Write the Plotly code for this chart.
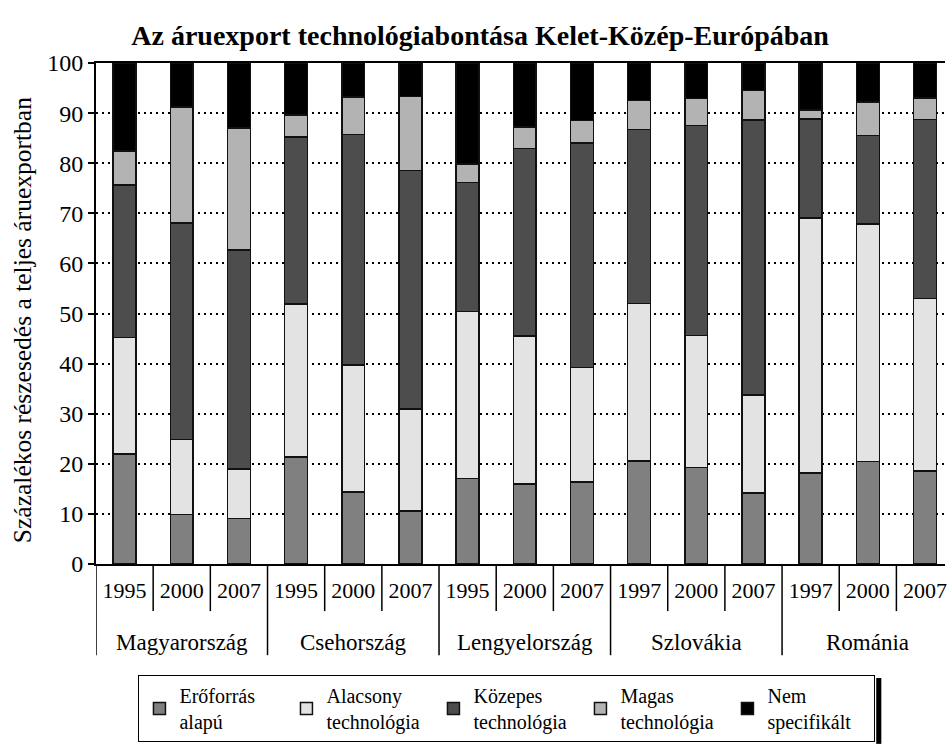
import plotly.graph_objects as go

countries = ["Magyarország", "Csehország", "Lengyelország", "Szlovákia", "Románia"]
years = ["1995", "2000", "2007", "1995", "2000", "2007", "1995", "2000", "2007",
         "1997", "2000", "2007", "1997", "2000", "2007"]

eroforras = [22.0, 9.9, 9.1, 21.4, 14.4, 10.6, 17.1, 16.0, 16.4, 20.6, 19.3, 14.2, 18.2, 20.5, 18.6]
alacsony = [23.2, 15.0, 9.9, 30.5, 25.3, 20.3, 33.3, 29.5, 22.8, 31.4, 26.3, 19.5, 50.9, 47.4, 34.4]
kozepes = [30.4, 43.2, 43.7, 33.3, 46.0, 47.6, 25.7, 37.4, 44.8, 34.7, 41.9, 54.9, 19.7, 17.6, 35.7]
magas = [6.8, 23.1, 24.3, 4.4, 7.5, 14.8, 3.7, 4.3, 4.5, 5.8, 5.4, 5.9, 1.8, 6.7, 4.3]
nem = [17.6, 8.8, 13.0, 10.4, 6.8, 6.7, 20.2, 12.8, 11.5, 7.5, 7.1, 5.5, 9.4, 7.8, 7.0]

series_names = ["Erőforrás<br>alapú", "Alacsony<br>technológia", "Közepes<br>technológia",
                "Magas<br>technológia", "Nem<br>specifikált"]
series_values = [eroforras, alacsony, kozepes, magas, nem]
series_colors = ["#808080", "#e3e3e3", "#4d4d4d", "#b3b3b3", "#000000"]

y_ticks = list(range(0, 101, 10))
y_title = "Százalékos részesedés a teljes áruexportban"

FONT = "Liberation Serif"
xs = list(range(len(years)))
per_group = len(years) // len(countries)

fig = go.Figure()
for name, vals, col in zip(series_names, series_values, series_colors):
    fig.add_trace(go.Bar(
        x=xs, y=vals, name=name, width=0.4,
        marker=dict(color=col, line=dict(color="#111111", width=1.5)),
    ))

shapes = []
# separators below the x axis
for i in range(len(years)):
    b = i - 0.5
    is_group = (i % per_group == 0)
    shapes.append(dict(type="line", xref="x", yref="paper", x0=b, x1=b,
                       y0=0, y1=-0.182 if is_group else -0.094,
                       line=dict(color="black", width=1.5)))

annotations = []
for g, c in enumerate(countries):
    center = g * per_group + (per_group - 1) / 2
    annotations.append(dict(x=center, y=-0.157, xref="x", yref="paper",
                            text=c, showarrow=False,
                            font=dict(family=FONT, size=23, color="black"),
                            xanchor="center", yanchor="middle"))

# y-axis title
annotations.append(dict(x=-0.087, y=0.487, xref="paper", yref="paper",
                        text=y_title, textangle=-90, showarrow=False,
                        font=dict(family=FONT, size=25.5, color="black"),
                        xanchor="center", yanchor="middle"))

# legend shadow
shapes.append(dict(type="rect", xref="paper", yref="paper",
                   x0=0.919, x1=0.925, y0=-0.359, y1=-0.2275,
                   fillcolor="black", line=dict(width=0), layer="below"))

fig.update_layout(
    barmode="stack",
    width=947, height=744,
    margin=dict(l=96, r=0, t=63, b=180),
    paper_bgcolor="white", plot_bgcolor="white",
    font=dict(family=FONT, color="black"),
    title=dict(text="<b>Az áruexport technológiabontása Kelet-Közép-Európában</b>",
               x=0.507, xanchor="center", y=1 - 35 / 744, yanchor="middle",
               yref="container",
               font=dict(family=FONT, size=28, color="black")),
    xaxis=dict(range=[-0.5, 14.35], tickmode="array", tickvals=xs, ticktext=years,
               ticks="", showgrid=False, zeroline=False,
               showline=True, linecolor="black", linewidth=2, mirror=True,
               tickfont=dict(family=FONT, size=22, color="black"),
               ticklabelstandoff=6, ticklabeloverflow="allow"),
    yaxis=dict(range=[0, 100], tickmode="array", tickvals=y_ticks,
               ticks="outside", ticklen=6, tickwidth=2, tickcolor="black",
               showline=True, linecolor="black", linewidth=2,
               showgrid=True, gridcolor="black", gridwidth=1.5, griddash="2px,4px",
               zeroline=False,
               tickfont=dict(family=FONT, size=24, color="black")),
    legend=dict(orientation="h", x=0.05, xanchor="left", y=-0.2216, yanchor="top",
                bordercolor="black", borderwidth=1, bgcolor="white",
                font=dict(family=FONT, size=20, color="black"),
                entrywidth=102, entrywidthmode="pixels",
                traceorder="normal", itemclick=False),
    shapes=shapes,
    annotations=annotations,
)

fig.write_html("out.html", config={"displayModeBar": False},
               post_script="document.body.style.margin='0';document.body.style.overflow='hidden';")
